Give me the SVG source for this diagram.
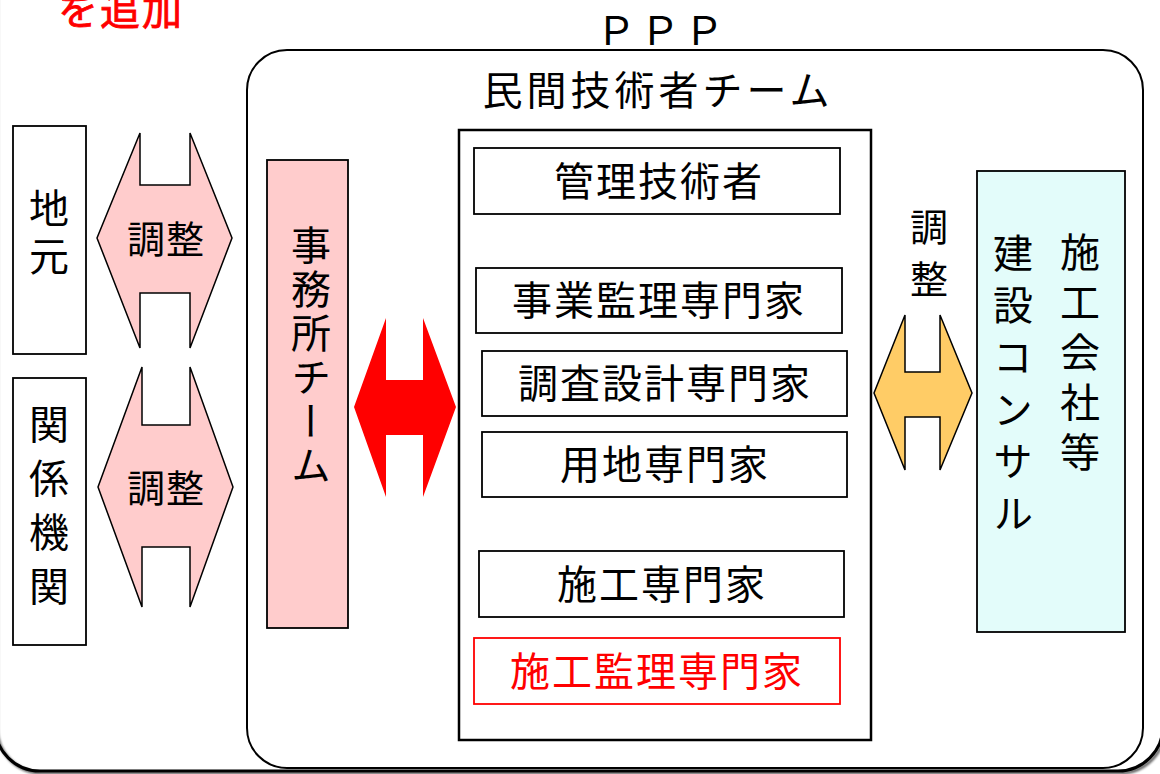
<svg xmlns="http://www.w3.org/2000/svg" width="1160" height="774" viewBox="0 0 1160 774">
<style>
text{font-family:"Noto Sans CJK JP","Noto Sans CJK SC",sans-serif;fill:#000;}
.h{font-size:40px;text-anchor:middle;letter-spacing:2px;}
.v{font-size:40px;text-anchor:middle;writing-mode:vertical-rl;}
.box{fill:#fff;stroke:#000;stroke-width:1.8;}
.arrowPink{fill:#FFCCCC;stroke:#000;stroke-width:1.5;stroke-linejoin:miter;}
</style>
<defs>
<filter id="sh" x="-5%" y="-5%" width="110%" height="110%">
<feDropShadow dx="2" dy="2" stdDeviation="0.8" flood-color="#000" flood-opacity="0.6"/>
</filter>
</defs>
<rect width="1160" height="774" fill="#fff"/>
<g id="outer">
<rect x="-5" y="-60" width="1168" height="831" rx="45" ry="45" fill="none" stroke="#000" stroke-width="3" filter="url(#sh)"/>
</g>
<text x="58" y="25" style="font-size:40px;fill:#FF0000;stroke:#FF0000;stroke-width:0.8;letter-spacing:2px;">を追加</text>
<g id="ppp">
<rect x="247" y="50" width="896" height="718" rx="40" ry="40" fill="#fff" stroke="#000" stroke-width="2"/>
<text x="662" y="45" class="h" style="letter-spacing:4px;">ＰＰＰ</text>
<text x="658" y="105" class="h" style="letter-spacing:4px;">民間技術者チーム</text>
</g>
<g id="jimoto">
<rect x="13" y="126" width="73" height="228" class="box"/>
<text x="49" y="236" class="v" style="letter-spacing:8px;">地元</text>
</g>
<g id="kankei">
<rect x="13" y="378" width="73" height="267" class="box"/>
<text x="49" y="512" class="v" style="letter-spacing:14px;">関係機関</text>
</g>
<g id="jimusho">
<rect x="267" y="160" width="81" height="468" fill="#FFCCCC" stroke="#000" stroke-width="1.8"/>
<text x="311" y="357" class="v" style="letter-spacing:4px;">事務所チーム</text>
</g>
<g id="team">
<rect x="459" y="130" width="412" height="610" fill="#fff" stroke="#000" stroke-width="2.5"/>
</g>
<g id="kanri">
<rect x="474" y="148" width="366" height="66" class="box"/>
<text x="659" y="196" class="h">管理技術者</text>
</g>
<g id="jigyo">
<rect x="476" y="268" width="366" height="65" class="box"/>
<text x="659" y="315" class="h">事業監理専門家</text>
</g>
<g id="chosa">
<rect x="482" y="351" width="365" height="65" class="box"/>
<text x="665" y="398" class="h">調査設計専門家</text>
</g>
<g id="yochi">
<rect x="482" y="432" width="365" height="65" class="box"/>
<text x="665" y="479" class="h">用地専門家</text>
</g>
<g id="seko">
<rect x="479" y="551" width="365" height="66" class="box"/>
<text x="662" y="599" class="h">施工専門家</text>
</g>
<g id="sekokanri">
<rect x="474" y="638" width="366" height="66" fill="#fff" stroke="#FF0000" stroke-width="1.8"/>
<text x="657" y="686" class="h" style="fill:#FF0000;">施工監理専門家</text>
</g>
<g id="contractor">
<rect x="977" y="171" width="148" height="461" fill="#E3FCFA" stroke="#000" stroke-width="1.8"/>
<text x="1080" y="357" class="v" style="letter-spacing:10px;">施工会社等</text>
<text x="1013" y="389" class="v" style="letter-spacing:12px;">建設コンサル</text>
</g>
<g id="connectors">
<polygon class="arrowPink" points="140,133 140,185 190,185 190,133 232,238 190,348 190,293 140,293 140,348 97,238"/>
<text x="166" y="253" class="h" style="font-size:38px;letter-spacing:1px;">調整</text>
<polygon class="arrowPink" points="142,367 142,425 190,425 190,367 233,487 190,607 190,547 142,547 142,607 98,487"/>
<text x="166" y="502" class="h" style="font-size:38px;letter-spacing:1px;">調整</text>
<polygon fill="#FF0000" points="386,318 386,380 423,380 423,318 456,407 423,497 423,435 386,435 386,497 354,407"/>
<polygon fill="#FFCC66" stroke="#000" stroke-width="1.5" points="905,315 905,372 940,372 940,315 972,393 940,470 940,417 905,417 905,470 874,393"/>
<text x="929" y="260" class="v" style="font-size:38px;letter-spacing:14px;">調整</text>
</g>
</svg>
